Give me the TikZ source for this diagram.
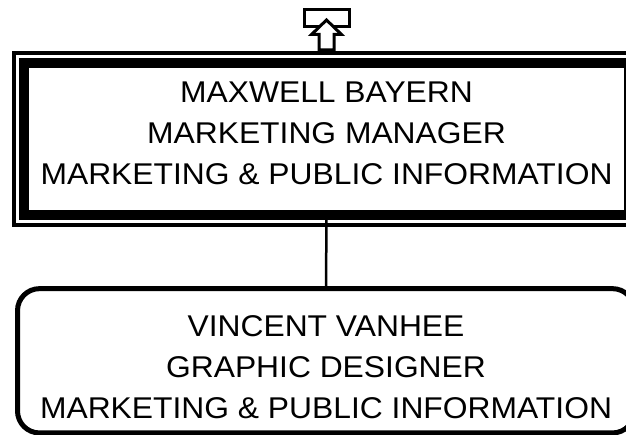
\documentclass[tikz,border=0pt]{standalone}
\usepackage{fontspec}
\setmainfont[FakeStretch=1.06]{Liberation Sans}
\begin{document}
\begin{tikzpicture}[x=1pt,y=-1pt,
  boxtext/.style={align=center, font=\fontsize{30}{41}\selectfont, inner sep=0pt, outer sep=0pt},
  mgrbox/.style={draw, line width=10pt, minimum width=605pt, minimum height=151.7pt, inner sep=0pt, outer sep=0pt},
  empbox/.style={draw, line width=5pt, rounded corners=22pt, minimum width=617pt, minimum height=144.3pt, inner sep=0pt, outer sep=0pt},
  conn/.style={line width=2.5pt},
  thinframe/.style={line width=4pt},
  tabbox/.style={draw, line width=3pt, minimum width=44.7pt, minimum height=16.7pt, inner sep=0pt, outer sep=0pt}]
\useasboundingbox (0,0) rectangle (626,435);
\node[mgrbox] (mgr) at (326.5,139.2) {};
\node[boxtext] (mgrtext) at (326.5,133.7) {MAXWELL BAYERN\\MARKETING MANAGER\\MARKETING \& PUBLIC INFORMATION};
\node[empbox] (emp) at (326,360.8) {};
\node[boxtext] (emptext) at (326,367.5) {VINCENT VANHEE\\GRAPHIC DESIGNER\\MARKETING \& PUBLIC INFORMATION};
\draw[conn] (mgr.south) -- (emp.north);
\draw[thinframe] ([shift={(-10.3,-10.8)}]mgr.north west) rectangle ([shift={(10.3,9.7)}]mgr.south east);
\node[tabbox] (tab) at (326.7,18.3) {};
\coordinate (tip) at (326.5,20);
\draw[line width=3pt, fill=white, line join=miter] (tip) -- (341.5,34.5) -- (334,34.5) -- (334,50) -- (319,50) -- (319,34.5) -- (311.5,34.5) -- cycle;
\end{tikzpicture}
\end{document}
